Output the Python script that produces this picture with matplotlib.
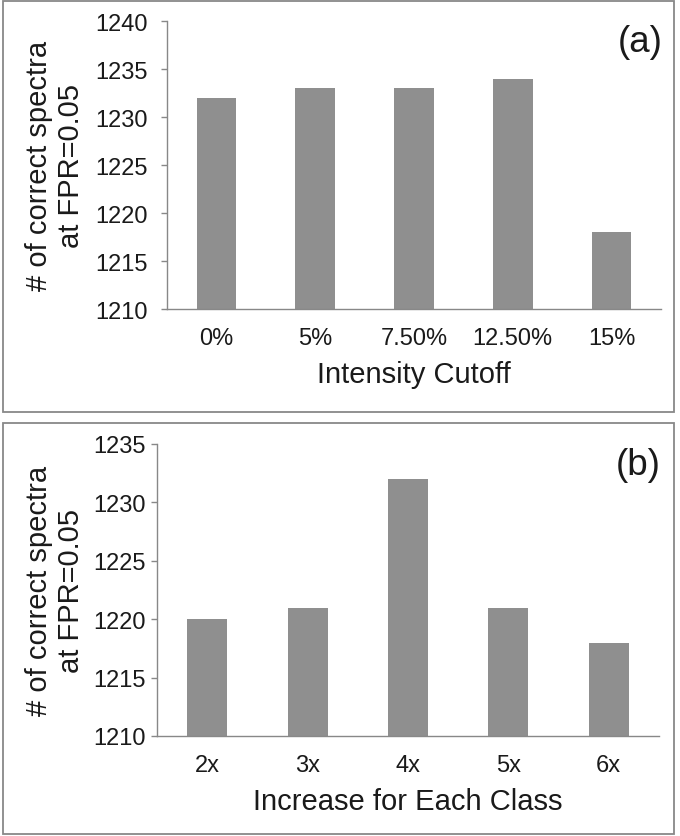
import matplotlib
matplotlib.use("Agg")
import matplotlib.pyplot as plt
from matplotlib.patches import Rectangle

# data
cutoff_labels = ["0%", "5%", "7.50%", "12.50%", "15%"]
cutoff_values = [1232, 1233, 1233, 1234, 1218]

class_labels = ["2x", "3x", "4x", "5x", "6x"]
class_values = [1220, 1221, 1232, 1221, 1218]

plt.rcParams['font.family'] = ['Liberation Sans', 'DejaVu Sans']

W, H = 680, 837
bar_col = '#8f8f8f'
line_col = '#888888'
txt_col = '#1a1a1a'

fig = plt.figure(figsize=(W / 100, H / 100), dpi=100)

# panel borders (pixel coords -> figure fraction)
def border(x0, y0, x1, y1):
    r = Rectangle((x0 / W, 1 - y1 / H), (x1 - x0) / W, (y1 - y0) / H,
                  transform=fig.transFigure, fill=False,
                  edgecolor=line_col, linewidth=1.3)
    fig.patches.append(r)

border(3, 2, 674, 413)
border(3, 424, 674, 835)


def panel(rect_px, labels, values, ylim, yticks, xlabel, tag, ylab_x, ypad):
    x0, y0, x1, y1 = rect_px
    ax = fig.add_axes([x0 / W, 1 - y1 / H, (x1 - x0) / W, (y1 - y0) / H])
    pos = list(range(len(labels)))
    ax.bar(pos, values, width=0.4, color=bar_col, zorder=2)
    ax.set_xlim(-0.5, len(labels) - 0.5)
    ax.set_ylim(*ylim)
    ax.set_yticks(yticks)
    ax.set_xticks(pos)
    ax.set_xticklabels(labels)
    for s in ['top', 'right']:
        ax.spines[s].set_visible(False)
    for s in ['left', 'bottom']:
        ax.spines[s].set_color(line_col)
        ax.spines[s].set_linewidth(1.0)
    ax.tick_params(axis='y', length=4, width=1, color=line_col,
                   labelsize=17, labelcolor=txt_col, pad=ypad)
    ax.tick_params(axis='x', length=0, labelsize=17, labelcolor=txt_col, pad=13)
    ax.set_xlabel(xlabel, fontsize=21, color=txt_col, va='center')
    ax.xaxis.set_label_coords(0.5, -65 / (y1 - y0))
    ax.set_ylabel("# of correct spectra\nat FPR=0.05", fontsize=21,
                  color=txt_col, va='center', ha='center', linespacing=1.15)
    ax.yaxis.set_label_coords(ylab_x, 0.5)
    ax.text(1.003, 1 - 21 / (y1 - y0), tag, transform=ax.transAxes,
            ha='right', va='center', fontsize=26.5, color=txt_col)
    return ax


panel((167, 22, 661, 310), cutoff_labels, cutoff_values, (1210, 1240),
      range(1210, 1241, 5), "Intensity Cutoff", "(a)", (55 - 167) / 494, 10)
panel((157, 445, 659, 737), class_labels, class_values, (1210, 1235),
      range(1210, 1236, 5), "Increase for Each Class", "(b)", (55 - 157) / 502, 4)

fig.savefig("out.png", dpi=100)
